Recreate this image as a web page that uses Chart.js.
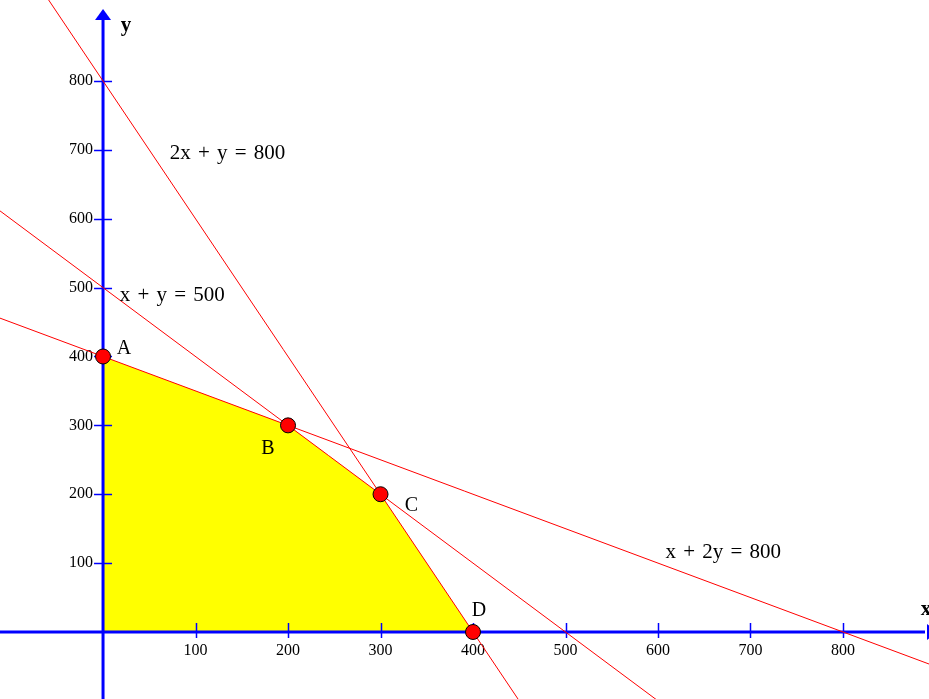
<!DOCTYPE html>
<html>
<head>
<meta charset="utf-8">
<script src="https://cdn.jsdelivr.net/npm/chart.js@4/dist/chart.umd.min.js"></script>
<style>
  html, body { margin: 0; padding: 0; background: #fff; }
  canvas { display: block; }
</style>
</head>
<body>
<canvas id="lpChart" width="929" height="699"></canvas>
<script>
// ---- data ----
const xTicks = [100, 200, 300, 400, 500, 600, 700, 800];
const yTicks = [100, 200, 300, 400, 500, 600, 700, 800];

// constraint lines a*x + b*y = c
const lineNames = ['2x + y = 800', 'x + y = 500', 'x + 2y = 800'];
const lineA = [2, 1, 1];
const lineB = [1, 1, 2];
const lineC = [800, 500, 800];

// corner points of the feasible region
const cornerNames = ['A', 'B', 'C', 'D'];
const cornerX = [0, 200, 300, 400];
const cornerY = [400, 300, 200, 0];

// ---- view / layout ----
const X_MIN = -111.4, X_MAX = 893;
const Y_MIN = -97.3, Y_MAX = 917.6;

// equation label anchors (data coords, left edge / middle)
const eqLabelAt = [[72, 695], [18, 488], [608, 116]];
// corner label offsets in px
const cornerLabelOff = [[21, -8], [-20, 23], [31, 12], [6, -21]];

const BLUE = '#0000ff';
const RED = '#ff0000';

const lineDatasets = lineNames.map((name, i) => ({
    type: 'line',
    label: name,
    data: [X_MIN, X_MAX].map(x => ({ x: x, y: (lineC[i] - lineA[i] * x) / lineB[i] })),
    borderColor: RED,
    borderWidth: 1,
    pointRadius: 0,
    fill: false,
    order: 1
}));

const regionDataset = {
    type: 'line',
    label: 'region',
    data: cornerX.map((x, i) => ({ x: x, y: cornerY[i] })),
    borderColor: 'rgba(0,0,0,0)',
    borderWidth: 0,
    backgroundColor: '#ffff00',
    pointRadius: 0,
    fill: 'origin',
    order: 5
};

const cornerDataset = {
    type: 'scatter',
    label: 'corners',
    data: cornerX.map((x, i) => ({ x: x, y: cornerY[i] })),
    backgroundColor: RED,
    borderColor: '#000',
    borderWidth: 1,
    pointRadius: 7.5,
    order: 0
};

// axes drawn right after the yellow region so they sit on top of it
const axesPlugin = {
    id: 'axesPlugin',
    afterDatasetDraw(chart, args) {
        if (args.meta.label !== 'region') return;
        const ctx = chart.ctx;
        const sx = chart.scales.x, sy = chart.scales.y;
        const ox = sx.getPixelForValue(0), oy = sy.getPixelForValue(0);
        const W = chart.width, H = chart.height;

        ctx.save();
        ctx.strokeStyle = BLUE;
        ctx.fillStyle = BLUE;
        ctx.lineWidth = 3;

        // x axis
        ctx.beginPath();
        ctx.moveTo(0, oy);
        ctx.lineTo(W - 4, oy);
        ctx.stroke();
        ctx.beginPath();
        ctx.moveTo(W + 8, oy);
        ctx.lineTo(W - 2, oy - 8);
        ctx.lineTo(W - 2, oy + 8);
        ctx.closePath();
        ctx.fill();

        // y axis
        ctx.beginPath();
        ctx.moveTo(ox, H);
        ctx.lineTo(ox, 18);
        ctx.stroke();
        ctx.beginPath();
        ctx.moveTo(ox, 9);
        ctx.lineTo(ox - 8, 20);
        ctx.lineTo(ox + 8, 20);
        ctx.closePath();
        ctx.fill();

        // ticks
        ctx.lineWidth = 1.5;
        xTicks.forEach(v => {
            const px = Math.round(sx.getPixelForValue(v)) + 0.5;
            ctx.beginPath();
            ctx.moveTo(px, oy - 9);
            ctx.lineTo(px, oy + 6);
            ctx.stroke();
        });
        yTicks.forEach(v => {
            const py = Math.round(sy.getPixelForValue(v)) + 0.5;
            ctx.beginPath();
            ctx.moveTo(ox - 9, py);
            ctx.lineTo(ox + 9, py);
            ctx.stroke();
        });

        // tick labels
        ctx.fillStyle = '#000';
        ctx.font = '16px "Liberation Serif", serif';
        ctx.textAlign = 'center';
        ctx.textBaseline = 'middle';
        xTicks.forEach(v => {
            ctx.fillText(String(v), sx.getPixelForValue(v), oy + 19);
        });
        ctx.textAlign = 'right';
        yTicks.forEach(v => {
            ctx.fillText(String(v), ox - 10, sy.getPixelForValue(v));
        });
        ctx.restore();
    },
    afterDraw(chart) {
        const ctx = chart.ctx;
        const sx = chart.scales.x, sy = chart.scales.y;
        const ox = sx.getPixelForValue(0), oy = sy.getPixelForValue(0);
        ctx.save();
        ctx.fillStyle = '#000';
        ctx.textBaseline = 'middle';

        // axis names
        ctx.font = 'bold 21px "Liberation Serif", serif';
        ctx.textAlign = 'center';
        ctx.fillText('y', ox + 23, 26);
        ctx.fillText('x', chart.width - 3, oy - 22);

        // equation labels
        ctx.font = '21px "Liberation Serif", serif';
        ctx.textAlign = 'left';
        ctx.wordSpacing = '2px';
        lineNames.forEach((name, i) => {
            const p = eqLabelAt[i];
            ctx.fillText(name, sx.getPixelForValue(p[0]), sy.getPixelForValue(p[1]));
        });
        ctx.wordSpacing = '0px';

        // corner labels
        ctx.font = '20px "Liberation Serif", serif';
        ctx.textAlign = 'center';
        cornerNames.forEach((name, i) => {
            const off = cornerLabelOff[i];
            ctx.fillText(name, sx.getPixelForValue(cornerX[i]) + off[0], sy.getPixelForValue(cornerY[i]) + off[1]);
        });
        ctx.restore();
    }
};

new Chart(document.getElementById('lpChart'), {
    data: {
        datasets: [cornerDataset, ...lineDatasets, regionDataset]
    },
    options: {
        responsive: false,
        animation: false,
        layout: { padding: 0, autoPadding: false },
        plugins: {
            legend: { display: false },
            tooltip: { enabled: false }
        },
        scales: {
            x: { type: 'linear', min: X_MIN, max: X_MAX, display: false },
            y: { type: 'linear', min: Y_MIN, max: Y_MAX, display: false }
        }
    },
    plugins: [axesPlugin]
});
</script>
</body>
</html>
